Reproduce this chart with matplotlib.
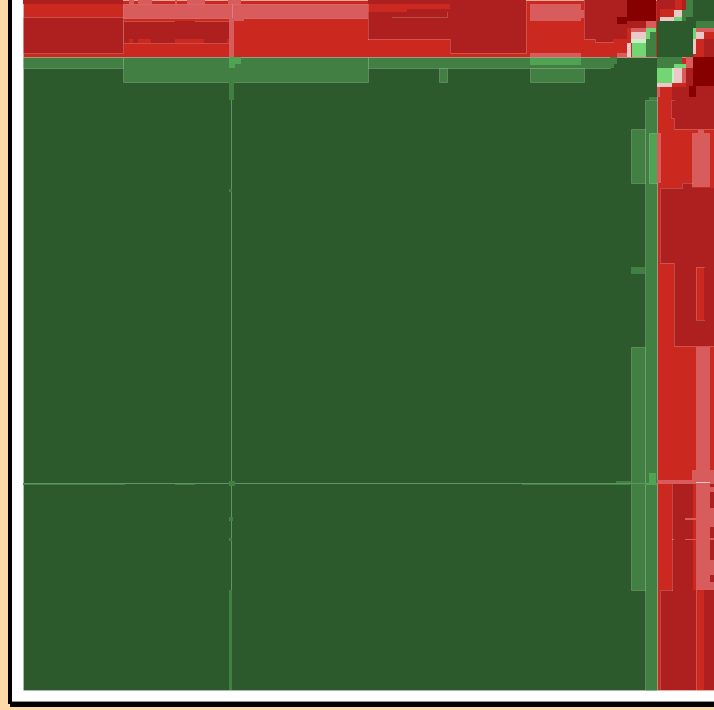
from matplotlib import pyplot as plt
from matplotlib.colors import ListedColormap
from matplotlib.patches import Rectangle

# colour levels of the map
level_colors = ["#2D5A2D", "#417F43", "#51A354", "#72D672", "#EBC9C9",
                "#D95C5C", "#CB281F", "#AE1F1F", "#870000", "#C8F0C8", "#5E9562"]
DG, MG, LG, BG, PK, SA, RE, DR, MA, PG, SE = range(11)

# cells are (level, x0, x1, y0, y1), painted in this order
base_cells = [
    (DG, 23, 657, 57, 690),
    (RE, 23, 714, 0, 57),
    (RE, 657, 714, 57, 690),
]

top_left_cells = [
    (DR, 23, 123, 0, 4), (DR, 23, 123, 17, 53),
    (MG, 23, 123, 57, 68), (MG, 123, 368, 57, 82), (MG, 368, 610, 57, 68),
    (MG, 439, 447, 68, 82), (MG, 530, 584, 68, 82),
    (LG, 530, 581, 58, 65), (MG, 610, 617, 57, 64), (MG, 610, 614, 64, 68),
    (SA, 123, 232, 4, 18), (SA, 232, 368, 4, 18),
    (SA, 129, 134, 0, 4), (SA, 138, 152, 0, 4), (SA, 175, 177, 0, 4),
    (SA, 187, 205, 0, 4), (SA, 228, 241, 0, 4),
    (DR, 123, 229, 21, 43),
    (RE, 129, 133, 39, 43), (RE, 138, 151, 39, 43), (RE, 175, 187, 39, 43),
    (RE, 187, 204, 39, 43), (RE, 227, 229, 39, 43),
    (DR, 175, 195, 21, 28), (DR, 195, 230, 22, 28),
    (SA, 229, 234, 18, 57), (SA, 232, 244, 18, 21),
    (LG, 229, 235, 57, 68), (LG, 235, 241, 57, 64),
]

top_mid_cells = [
    (DR, 368, 526, 0, 4), (DR, 450, 526, 4, 53), (DR, 368, 450, 9, 39),
    (RE, 368, 450, 4, 9), (RE, 368, 407, 9, 12),
    (DR, 392, 447, 12, 17),
    (SA, 530, 581, 4, 21), (SA, 581, 584, 10, 18), (SA, 530, 581, 53, 57),
    (DR, 584, 627, 0, 39), (DR, 595, 613, 39, 42),
    (SA, 617, 627, 53, 57),
]

corner_cells = [
    (MA, 627, 656, 0, 21), (MA, 617, 627, 17, 24),
    (DR, 627, 646, 21, 28), (SA, 646, 656, 21, 28),
    (RE, 627, 631, 28, 43), (PK, 627, 631, 43, 57),
    (SA, 631, 646, 28, 32), (PK, 631, 646, 32, 39),
    (PG, 631, 646, 39, 43), (BG, 632, 646, 43, 57),
    (BG, 646, 656, 28, 39), (MG, 650, 656, 32, 39), (MG, 646, 656, 39, 57),
    (DG, 657, 693, 21, 57),
    (DR, 657, 675, 0, 10), (DR, 657, 660, 10, 21), (RE, 675, 682, 0, 10),
    (DR, 682, 686, 0, 10), (RE, 660, 674, 9, 17), (PK, 674, 682, 10, 17),
    (PK, 660, 674, 17, 21), (BG, 674, 682, 17, 21), (MG, 682, 686, 10, 21),
    (MG, 686, 693, 0, 17), (DG, 686, 693, 17, 21), (DG, 693, 714, 0, 21),
    (DG, 693, 696, 21, 28), (MG, 696, 714, 21, 28),
    (BG, 693, 696, 28, 39), (PK, 693, 696, 39, 54),
    (SA, 696, 714, 28, 32), (PK, 696, 704, 32, 39), (RE, 704, 714, 32, 39),
    (RE, 696, 704, 39, 54), (DR, 704, 714, 39, 57),
    (MG, 657, 674, 57, 68), (MG, 674, 682, 57, 64), (BG, 674, 686, 64, 68),
    (SA, 686, 693, 57, 68),
    (BG, 657, 672, 68, 83), (PG, 672, 674, 68, 83), (PK, 674, 682, 68, 83),
    (SA, 682, 686, 68, 83), (DR, 686, 693, 68, 87),
    (PK, 657, 672, 83, 87), (RE, 672, 686, 83, 87),
    (MA, 693, 714, 57, 86), (MA, 689, 696, 86, 97), (DR, 696, 714, 86, 97),
    (DR, 672, 689, 87, 104), (DR, 689, 714, 97, 104),
    (SA, 657, 660, 87, 97),
]

right_green_cells = [
    (MG, 645, 657, 100, 690), (MG, 649, 657, 97, 100),
    (MG, 631, 645, 129, 183), (LG, 649, 657, 133, 183),
    (MG, 631, 645, 267, 274), (MG, 631, 645, 347, 590),
    (LG, 649, 656, 473, 483), (LG, 645, 657, 483, 485),
]

right_red_cells = [
    (SA, 657, 661, 133, 183),
    (DR, 674, 714, 104, 129), (DR, 671, 674, 100, 118),
    (SA, 698, 704, 130, 133), (SA, 692, 710, 133, 187),
    (DR, 682, 692, 183, 188), (DR, 660, 714, 188, 263),
    (DR, 674, 714, 263, 346),
    (RE, 696, 704, 267, 320),
    (SA, 696, 710, 347, 590), (SA, 692, 696, 470, 484), (RE, 693, 696, 484, 590),
    (SA, 657, 696, 480, 484), (PK, 696, 710, 482, 483),
    (DR, 672, 693, 484, 590), (SA, 685, 696, 518, 520), (SA, 685, 696, 539, 540),
    (SA, 672, 674, 539, 540),
    (SA, 710, 714, 470, 484), (DR, 710, 714, 484, 487), (SA, 710, 714, 487, 492),
    (DR, 710, 714, 492, 508), (SA, 710, 714, 508, 527), (DR, 710, 714, 527, 538),
    (SA, 710, 714, 538, 540), (DR, 710, 714, 540, 560), (SA, 710, 714, 560, 575),
    (DR, 710, 714, 575, 582), (SA, 710, 714, 582, 590),
    (DR, 660, 696, 590, 690), (DR, 704, 714, 590, 690),
]

# thin seams through the dark green block
seam_cells = [
    (MG, 229, 234, 82, 100), (SE, 231, 232, 100, 690),
    (MG, 229, 232, 590, 690), (MG, 229, 232, 189, 192),
    (MG, 229, 233, 517, 521), (MG, 229, 232, 538, 541),
    (SE, 23, 645, 483, 484), (MG, 23, 125, 484, 485),
    (MG, 175, 195, 484, 485), (MG, 522, 630, 484, 485),
    (MG, 616, 631, 481, 483), (MG, 229, 235, 481, 486),
]

# pale outlines around the merged red regions
region_outlines = [
    [(368, 39), (450, 39), (450, 53), (526, 53), (526, 0)],
    [(368, 4), (368, 39)],
    [(392, 17), (447, 17), (447, 12)],
    [(584, 0), (584, 39), (595, 39), (595, 42), (613, 42)],
    [(714, 129), (674, 129), (674, 118), (671, 118), (671, 100), (674, 100)],
    [(692, 183), (682, 183), (682, 188), (660, 188), (660, 263), (674, 263),
     (674, 346), (714, 346)],
    [(704, 267), (696, 267), (696, 320), (704, 320)],
    [(672, 590), (660, 590), (660, 690)],
    [(696, 590), (696, 690)],
    [(672, 484), (672, 590)],
]

cmap = ListedColormap(level_colors)

fig = plt.figure(figsize=(7.14, 7.10), dpi=100, facecolor="#FFD9A6")
ax = fig.add_axes([0, 0, 1, 1])
ax.set_xlim(0, 714)
ax.set_ylim(710, 0)
ax.axis("off")

# page frame and its shadow
ax.add_patch(Rectangle((10, 0), 704, 706.5, fc="black", ec="none"))
ax.add_patch(Rectangle((8, 0), 706, 704, fc="black", ec="none"))
ax.add_patch(Rectangle((12, 0), 702, 701, fc="white", ec="none"))
ax.plot([12, 714], [701, 701], color="#999999", lw=0.7)


def draw_cells(cells, outlined):
    for level, x0, x1, y0, y1 in cells:
        # only the larger blocks carry the pale outline
        if outlined and x1 - x0 >= 8 and y1 - y0 >= 8:
            edge = (1, 1, 1, 0.2)
        else:
            edge = "none"
        ax.add_patch(Rectangle((x0, y0), x1 - x0, y1 - y0, fc=cmap(level),
                               ec=edge, lw=0.7))


draw_cells(base_cells, True)
draw_cells(top_left_cells, True)
draw_cells(top_mid_cells, False)
draw_cells(corner_cells, False)
draw_cells(right_green_cells, True)
draw_cells(right_red_cells, False)
draw_cells(seam_cells, False)

for path in region_outlines:
    ax.plot([p[0] for p in path], [p[1] for p in path],
            color=(1, 1, 1, 0.2), lw=0.7)

plt.savefig("out.png", dpi=100, facecolor=fig.get_facecolor())
